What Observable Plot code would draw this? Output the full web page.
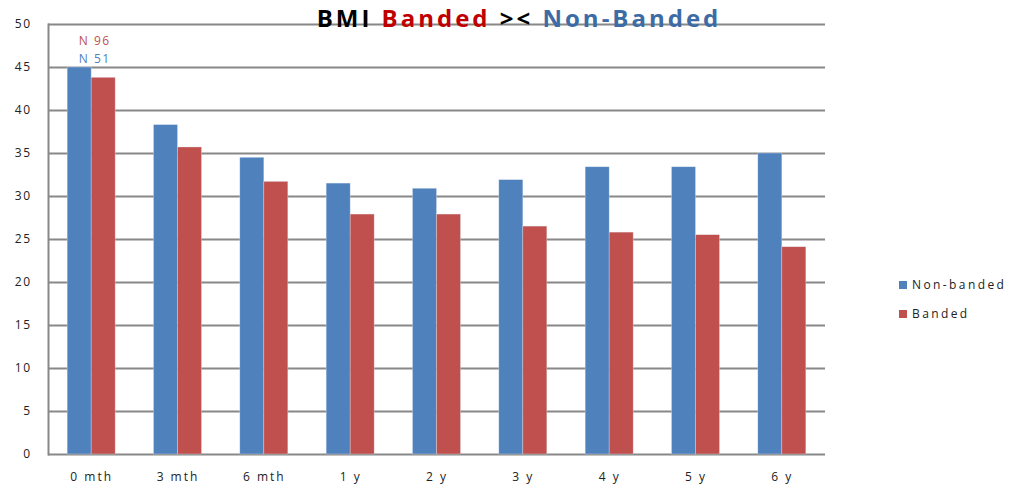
<!DOCTYPE html>
<html>
<head>
<meta charset="utf-8">
<script src="https://cdn.jsdelivr.net/npm/d3@7"></script>
<script src="https://cdn.jsdelivr.net/npm/@observablehq/plot@0.6"></script>
<style>
  body { margin: 0; background: #fff; }
  #wrap { position: relative; width: 1009px; height: 485px; font-family: "Open Sans", "Liberation Sans", sans-serif; }
  #title { position: absolute; left: 0; width: 1038px; top: 3px; text-align: center; font-size: 24px; font-weight: bold; letter-spacing: 3px; z-index: 2; line-height: 30px; }
  #legend { position: absolute; left: 899px; top: 270px; font-size: 12px; letter-spacing: 2.4px; color: #222; }
  .li { display: flex; align-items: center; height: 29px; }
  .sw { width: 8px; height: 8px; margin-right: 5px; }
  g[aria-label="x-axis tick label"] text { letter-spacing: 2px; }
  g[aria-label="y-axis tick label"] text { letter-spacing: 1.5px; }
  g[aria-label="text"] text { letter-spacing: 1.5px; }
</style>
</head>
<body>
<div id="wrap">
  <div id="title"><span style="color:#000">BMI </span><span style="color:#c00000">Banded</span><span style="color:#000"> &gt;&lt; </span><span style="color:#3d6ba5">Non-Banded</span></div>
  <div id="legend"></div>
</div>
<script>
const categories = ["0 mth", "3 mth", "6 mth", "1 y", "2 y", "3 y", "4 y", "5 y", "6 y"];
const seriesNames = ["Non-banded", "Banded"];
const nonBanded = [45.0, 38.3, 34.5, 31.5, 30.9, 31.9, 33.4, 33.4, 35.0];
const banded = [43.8, 35.7, 31.7, 27.9, 27.9, 26.5, 25.8, 25.5, 24.1];
const colors = ["#4f81bd", "#c0504d"];
const yTicks = [0, 5, 10, 15, 20, 25, 30, 35, 40, 45, 50];
const nLabels = [
  {cat: "0 mth", label: "N 96", y: 48.1, color: "#c0504d"},
  {cat: "0 mth", label: "N 51", y: 46.0, color: "#4f81bd"}
];

const rows = [];
categories.forEach((c, i) => {
  rows.push({cat: c, series: seriesNames[0], value: nonBanded[i]});
  rows.push({cat: c, series: seriesNames[1], value: banded[i]});
});

const chart = Plot.plot({
  width: 1009,
  height: 485,
  marginLeft: 48,
  marginRight: 184,
  marginTop: 24,
  marginBottom: 31,
  style: {fontFamily: "'Open Sans', 'Liberation Sans', sans-serif", fontSize: "12px", color: "#222"},
  x: {domain: categories, paddingInner: 0.444, paddingOuter: 0.222, round: false, label: null},
  y: {domain: [0, 50], label: null},
  color: {domain: seriesNames, range: colors},
  marks: [
    Plot.ruleY(yTicks, {stroke: "#888", strokeWidth: 2}),
    Plot.barY(rows.filter(d => d.series === seriesNames[0]), {x: "cat", y: "value", fill: "series", insetRight: 24, stroke: "#dfe7f2", strokeWidth: 0.6, strokeOpacity: 0.6}),
    Plot.barY(rows.filter(d => d.series === seriesNames[1]), {x: "cat", y: "value", fill: "series", insetLeft: 24, stroke: "#dfe7f2", strokeWidth: 0.6, strokeOpacity: 0.6}),
    Plot.frame({anchor: "left", stroke: "#888", strokeWidth: 2}),
    Plot.axisY(yTicks, {tickSize: 0, tickPadding: 17, fontSize: 12}),
    Plot.axisX({anchor: "bottom", tickSize: 0, tickPadding: 18, fontSize: 12, label: null}),
    Plot.text(nLabels, {x: "cat", y: "y", text: "label", fill: d => d.color, dx: 3, fontSize: 12})
  ]
});
document.getElementById("wrap").appendChild(chart);

const legend = document.getElementById("legend");
seriesNames.forEach((s, i) => {
  const row = document.createElement("div");
  row.className = "li";
  row.innerHTML = `<div class="sw" style="background:${colors[i]}"></div><span>${s}</span>`;
  legend.appendChild(row);
});
</script>
</body>
</html>
